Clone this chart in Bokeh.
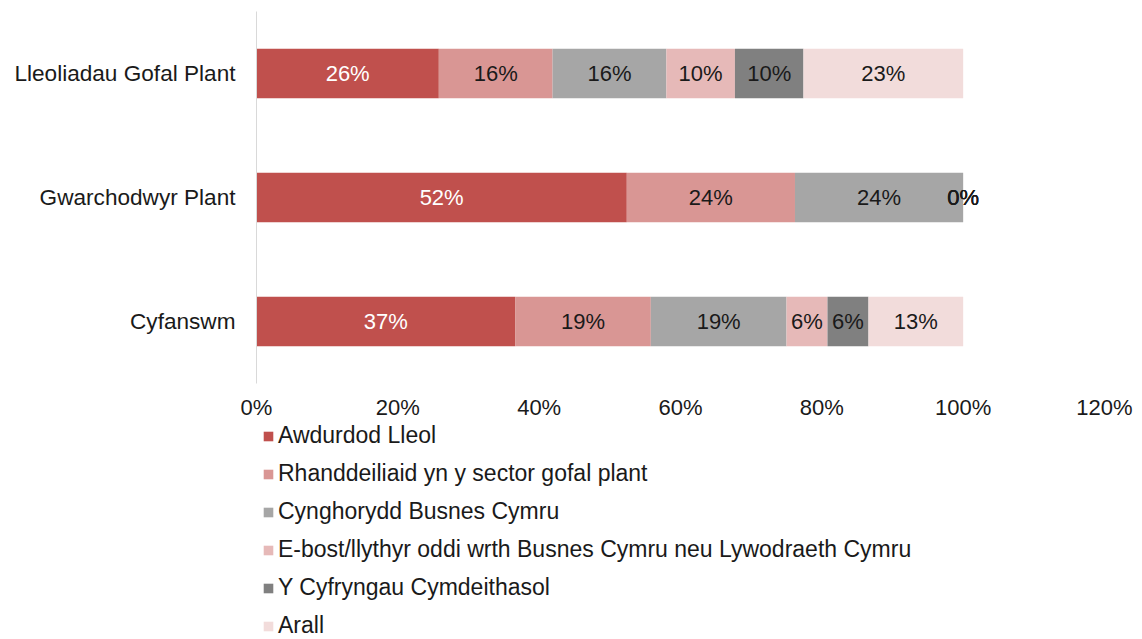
from bokeh.plotting import figure
from bokeh.layouts import column
from bokeh.models import (ColumnDataSource, Legend, LegendItem, NumeralTickFormatter,
                          FixedTicker, Range1d, FactorRange)
from bokeh.core.properties import value
from bokeh.embed import file_html
from bokeh.resources import INLINE

# ---- data ----
categories = ["Cyfanswm", "Gwarchodwyr Plant", "Lleoliadau Gofal Plant"]
series = [
    "Awdurdod Lleol",
    "Rhanddeiliaid yn y sector gofal plant",
    "Cynghorydd Busnes Cymru",
    "E-bost/llythyr oddi wrth Busnes Cymru neu Lywodraeth Cymru",
    "Y Cyfryngau Cymdeithasol",
    "Arall",
]
awdurdod_lleol = [0.366, 0.524, 0.258]
rhanddeiliaid = [0.192, 0.238, 0.161]
cynghorydd = [0.192, 0.238, 0.161]
ebost = [0.058, 0.0, 0.097]
cyfryngau = [0.058, 0.0, 0.097]
arall = [0.134, 0.0, 0.226]
x_ticks = [0.0, 0.2, 0.4, 0.6, 0.8, 1.0, 1.2]

values = [awdurdod_lleol, rhanddeiliaid, cynghorydd, ebost, cyfryngau, arall]
colors = ["#C0504D", "#D99694", "#A6A6A6", "#E6B9B8", "#808080", "#F2DCDB"]
label_colors = ["#FFFFFF", "#1a1a1a", "#1a1a1a", "#1a1a1a", "#1a1a1a", "#1a1a1a"]
FONT = "Liberation Sans"

keys = ["s%d" % i for i in range(len(series))]
data = {"cat": categories}
for k, v in zip(keys, values):
    data[k] = v
source = ColumnDataSource(data)

p = figure(
    width=1142, height=422,
    y_range=FactorRange(*categories),
    x_range=Range1d(0, 1.2),
    output_backend="svg", toolbar_location=None,
    min_border_left=256, min_border_right=38, min_border_top=11, min_border_bottom=37,
)

renderers = p.hbar_stack(keys, y="cat", height=0.4, color=colors, source=source,
                         line_color=None)

# data labels
lx, ly, lt, lc = [], [], [], []
for ci, cat in enumerate(categories):
    left = 0.0
    for si, v in enumerate(values):
        val = v[ci]
        lx.append(left + val / 2.0)
        ly.append(cat)
        lt.append("%d%%" % int(round(val * 100)))
        lc.append(label_colors[si])
        left += val
lsrc = ColumnDataSource(dict(x=lx, y=ly, t=lt, c=lc))
p.text(x="x", y="y", text="t", text_color="c", source=lsrc,
       text_align="center", text_baseline="middle",
       text_font=value(FONT), text_font_size="22px")

# axes
p.xaxis.ticker = FixedTicker(ticks=x_ticks)
p.xaxis.formatter = NumeralTickFormatter(format="0%")
p.xaxis.axis_line_color = None
p.xaxis.major_tick_line_color = None
p.xaxis.minor_tick_line_color = None
p.xaxis.major_tick_out = 0
p.xaxis.major_label_standoff = 11
p.xaxis.major_label_text_font = FONT
p.xaxis.major_label_text_font_size = "22px"
p.xaxis.major_label_text_color = "#1a1a1a"

p.yaxis.axis_line_color = "#D9D9D9"
p.yaxis.axis_line_width = 1
p.yaxis.major_tick_line_color = None
p.yaxis.minor_tick_line_color = None
p.yaxis.major_tick_out = 0
p.yaxis.major_label_standoff = 21
p.yaxis.major_label_text_font = FONT
p.yaxis.major_label_text_font_size = "22.6px"
p.yaxis.major_label_text_color = "#1a1a1a"

p.xgrid.grid_line_color = None
p.ygrid.grid_line_color = None
p.outline_line_color = None

# ---- legend in its own strip below the chart ----
leg = figure(width=1142, height=217, x_range=Range1d(0, 1), y_range=Range1d(0, 1),
             output_backend="svg", toolbar_location=None, min_border=0)
leg.axis.visible = False
leg.xgrid.grid_line_color = None
leg.ygrid.grid_line_color = None
leg.outline_line_color = None

items = []
for s, c in zip(series, colors):
    # off-screen proxy bar, only used for the legend swatch
    r = leg.hbar(y=[-5], right=[-2], left=[-3], height=0.4, color=c, line_color=None)
    items.append(LegendItem(label=s, renderers=[r]))

legend = Legend(
    items=items,
    location=(6, 0), orientation="vertical",
    glyph_width=12, glyph_height=12, label_standoff=4,
    label_text_font=FONT, label_text_font_size="23px", label_text_color="#1a1a1a",
    spacing=11, padding=0, margin=0, border_line_color=None,
    background_fill_alpha=0,
)
leg.add_layout(legend, "center")

layout = column(p, leg, spacing=0)
open("out.html", "w").write(file_html(layout, INLINE))
